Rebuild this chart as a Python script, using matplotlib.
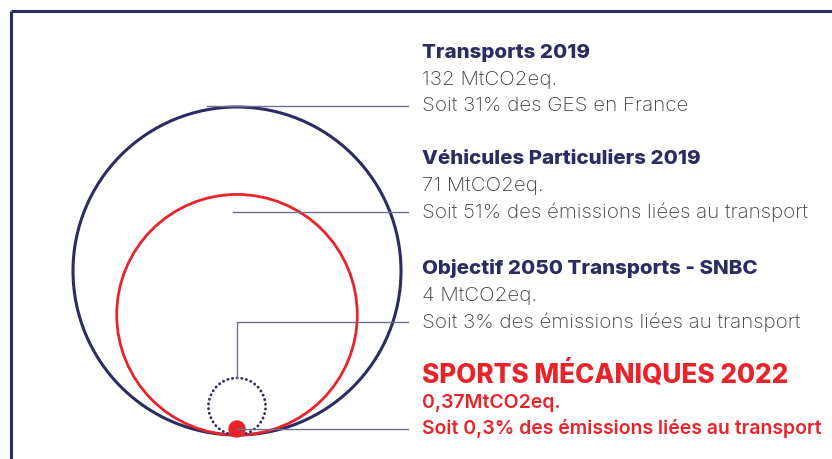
import matplotlib.pyplot as plt
from matplotlib.patches import Circle
import numpy as np

# emissions, MtCO2eq
labels = ["Transports 2019", "Véhicules Particuliers 2019",
          "Objectif 2050 Transports - SNBC", "SPORTS MÉCANIQUES 2022"]
values = [132, 71, 4, 0.37]
value_txt = ["132 MtCO2eq.", "71 MtCO2eq.", "4 MtCO2eq.", "0,37MtCO2eq."]
share_txt = ["Soit 31% des GES en France",
             "Soit 51% des émissions liées au transport",
             "Soit 3% des émissions liées au transport",
             "Soit 0,3% des émissions liées au transport"]

navy = "#2a2c62"
red = "#e8232a"
grey = "#404040"
leader = "#6e7090"

plt.rcParams['font.family'] = ['Inter', 'DejaVu Sans']

fig = plt.figure(figsize=(8.32, 4.59), dpi=100)
ax = fig.add_axes([0, 0, 1, 1])
ax.set_xlim(0, 832)
ax.set_ylim(459, 0)
ax.set_aspect('equal')
ax.axis('off')

# frame
ax.plot([11, 11], [459, 11], color=navy, lw=2.2, solid_capstyle='butt')
ax.plot([11, 832], [11, 11], color=navy, lw=2.2, solid_capstyle='butt')

cx, base = 237, 435
k = 164 / np.sqrt(values[0])
radii = [k * np.sqrt(v) for v in values]

tx = 420
row_y = [106, 212, 322, 429]

ax.add_patch(Circle((cx, base - radii[0]), radii[0], fill=False, ec=navy, lw=2.2))
ax.add_patch(Circle((cx, base - radii[1]), radii[1], fill=False, ec=red, lw=2.0))
ax.add_patch(Circle((cx, base - radii[2]), radii[2], fill=False, ec=navy, lw=2.0,
                    ls=(0, (0.1, 1.6)), capstyle='round'))
ax.add_patch(Circle((cx, row_y[3]), radii[3], color=red, lw=0))

# leader lines
ax.plot([207, 408], [row_y[0], row_y[0]], color=leader, lw=1)
ax.plot([233, 408], [row_y[1], row_y[1]], color=leader, lw=1)
top3 = base - 2 * radii[2]
ax.plot([cx, cx, 408], [top3, row_y[2], row_y[2]], color=leader, lw=1)
ax.plot([cx, 408], [row_y[3], row_y[3]], color=leader, lw=1)

# text blocks
for i in range(4):
    y = row_y[i]
    last = i == 3
    tcol = red if last else navy
    bcol = red if last else grey
    fs = 14.0 if last else 14.8
    ax.text(tx + 2, y - 53 - (1 if last else 0), labels[i], color=tcol,
            fontsize=18.8 if last else 14.8,
            fontweight='heavy', va='center', ha='left')
    ax.text(tx + 2, y - 26, value_txt[i], color=bcol, fontsize=fs,
            fontweight='semibold' if last else 'light', va='center', ha='left')
    ax.text(tx + 2, y, share_txt[i], color=bcol, fontsize=fs,
            fontweight='semibold' if last else 'light', va='center', ha='left')

fig.savefig("out.png", dpi=100, facecolor='white')
